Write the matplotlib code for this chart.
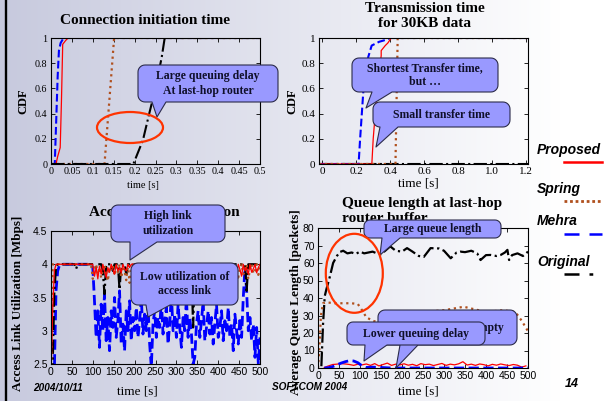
import numpy as np
import matplotlib
matplotlib.use("Agg")
import matplotlib.pyplot as plt
from matplotlib.patches import Polygon, Ellipse
from matplotlib.lines import Line2D

W, H = 611, 401
SERIF = "Liberation Serif"
SANS = "Liberation Sans"
RED = "#ff0000"
BROWN = "#b0501e"
BLUE = "#0000ff"
BLACK = "#000000"
FILL = "#9999ff"
EDGE = "#2b2b4a"
INK = "#10102a"

# ---------------- data ----------------
# connection initiation time (CDF)
conn_prop_x = [0, 0.012, 0.016, 0.022, 0.025, 0.028, 0.035, 0.041, 0.5]
conn_prop_y = [0, 0, 0.06, 0.13, 0.5, 0.95, 0.98, 1, 1]
conn_mehra_x = [0, 0.009, 0.012, 0.016, 0.019, 0.023, 0.03, 0.5]
conn_mehra_y = [0, 0, 0.3, 0.7, 0.9, 0.96, 1, 1]
conn_spring_x = [0, 0.128, 0.151, 0.5]
conn_spring_y = [0, 0, 1, 1]
conn_orig_x = [0, 0.197, 0.22, 0.235, 0.25, 0.265, 0.272, 0.5]
conn_orig_y = [0, 0, 0.19, 0.4, 0.6, 0.85, 1, 1]

# transmission time for 30KB (CDF)
tx_prop_x = [-0.02, 0.291, 0.299, 0.32, 0.346, 0.346, 0.37, 0.385, 0.405, 1.21]
tx_prop_y = [0, 0, 0.2, 0.55, 0.86, 0.9, 0.94, 0.96, 1, 1]
tx_mehra_x = [-0.02, 0.213, 0.222, 0.242, 0.27, 0.29, 0.334, 0.36, 0.4, 1.21]
tx_mehra_y = [0, 0, 0.2, 0.6, 0.85, 0.94, 0.97, 0.98, 1, 1]
tx_spring_x = [-0.02, 0.43, 0.443, 1.21]
tx_spring_y = [0, 0, 1, 1]
tx_orig_x = [-0.02, 1.21]
tx_orig_y = [0, 0]

# access link utilization, sampled every 4 s from 0 to 500
util_t = np.arange(0, 501, 4)
util_mehra = [
    2.3, 2.3, 2.4, 3.6, 3.9, 3.98, 4.0, 4.0, 4.0, 4.0,
    4.0, 4.0, 4.0, 4.0, 4.0, 4.0, 4.0, 4.0, 4.0, 4.0,
    4.0, 4.0, 4.0, 4.0, 3.98, 3.95, 3.45, 2.9, 3.3, 2.75,
    3.4, 3.0, 3.55, 2.85, 3.2, 2.7, 3.3, 3.05, 3.5, 2.9,
    3.15, 3.6, 2.8, 3.1, 2.7, 3.3, 3.0, 3.45, 2.85, 3.2,
    3.0, 3.35, 2.9, 3.15, 3.5, 2.95, 3.25, 3.0, 3.4, 2.8,
    2.45, 3.1, 3.3, 2.9, 3.2, 3.05, 3.45, 2.95, 3.15, 3.35,
    2.8, 3.1, 3.55, 3.0, 3.25, 2.9, 3.4, 3.05, 2.75, 3.2,
    3.0, 3.5, 2.9, 3.2, 2.95, 2.5, 2.6, 3.1, 3.3, 2.9,
    3.15, 3.45, 2.85, 3.05, 3.3, 2.95, 3.2, 2.8, 3.1, 3.4,
    2.9, 3.05, 3.3, 2.85, 3.15, 3.0, 3.35, 2.9, 3.1, 2.7,
    3.25, 3.0, 2.8, 3.2, 2.9, 3.5, 3.95, 3.6, 3.0, 3.2,
    2.85, 3.1, 2.6, 3.05, 2.5, 2.9]
util_orig = [
    2.3, 2.5, 3.6, 3.95, 4.0, 4.0, 4.0, 4.0, 4.0, 4.0,
    4.0, 4.0, 4.0, 4.0, 4.0, 3.93, 4.0, 4.0, 4.0, 4.0,
    4.0, 4.0, 4.0, 4.0, 4.0, 4.0, 4.0, 3.95, 4.0, 4.0,
    4.0, 3.9, 3.55, 4.0, 4.0, 4.0, 4.0, 3.9, 4.0, 4.0,
    4.0, 3.62, 4.0, 4.0, 4.0, 3.85, 4.0, 4.0, 4.0, 4.0,
    4.0, 4.0, 4.0, 4.0, 4.0, 4.0, 4.0, 4.0, 4.0, 4.0,
    4.0, 4.0, 4.0, 4.0, 4.0, 4.0, 4.0, 4.0, 4.0, 4.0,
    4.0, 4.0, 4.0, 4.0, 4.0, 4.0, 4.0, 4.0, 4.0, 4.0,
    4.0, 4.0, 4.0, 4.0, 4.0, 3.05, 4.0, 4.0, 4.0, 4.0,
    4.0, 4.0, 4.0, 4.0, 4.0, 4.0, 4.0, 4.0, 4.0, 4.0,
    4.0, 4.0, 4.0, 4.0, 4.0, 4.0, 4.0, 4.0, 4.0, 4.0,
    4.0, 4.0, 4.0, 4.0, 4.0, 4.0, 4.0, 3.6, 4.0, 4.0,
    4.0, 4.0, 4.0, 4.0, 4.0, 4.0]
util_spring = [
    2.3, 4.0, 4.0, 4.0, 4.0, 4.0, 4.0, 4.0, 4.0, 4.0,
    4.0, 4.0, 4.0, 4.0, 4.0, 4.0, 4.0, 4.0, 4.0, 4.0,
    4.0, 4.0, 4.0, 4.0, 4.0, 3.78, 3.9, 4.0, 3.85, 3.95,
    3.8, 3.92, 4.0, 3.86, 3.75, 3.95, 3.9, 4.0, 3.83, 3.96,
    3.88, 4.0, 3.8, 3.93, 3.9, 3.76, 4.0, 3.72, 3.9, 4.0,
    4.0, 4.0, 4.0, 4.0, 4.0, 4.0, 4.0, 4.0, 4.0, 4.0,
    4.0, 4.0, 4.0, 4.0, 4.0, 4.0, 4.0, 4.0, 4.0, 4.0,
    4.0, 4.0, 4.0, 4.0, 4.0, 4.0, 4.0, 4.0, 4.0, 4.0,
    4.0, 4.0, 4.0, 4.0, 4.0, 4.0, 4.0, 4.0, 4.0, 4.0,
    4.0, 4.0, 4.0, 4.0, 4.0, 4.0, 4.0, 4.0, 4.0, 4.0,
    4.0, 4.0, 4.0, 4.0, 4.0, 4.0, 4.0, 4.0, 4.0, 4.0,
    4.0, 3.88, 3.8, 3.95, 4.0, 3.85, 3.9, 4.0, 3.78, 3.92,
    4.0, 3.86, 3.9, 4.0, 3.84, 4.0]
util_prop = [
    2.3, 3.3, 3.9, 4.0, 4.0, 4.0, 4.0, 4.0, 4.0, 4.0,
    4.0, 4.0, 4.0, 4.0, 4.0, 4.0, 4.0, 4.0, 4.0, 4.0,
    4.0, 4.0, 4.0, 4.0, 4.0, 4.0, 3.82, 3.95, 3.78, 3.97,
    3.85, 4.0, 3.9, 3.8, 3.95, 3.88, 4.0, 3.92, 3.85, 4.0,
    3.9, 3.95, 3.87, 4.0, 3.93, 3.9, 4.0, 3.95, 4.0, 4.0,
    4.0, 4.0, 4.0, 4.0, 4.0, 4.0, 4.0, 4.0, 4.0, 4.0,
    4.0, 4.0, 4.0, 4.0, 4.0, 4.0, 4.0, 4.0, 4.0, 4.0,
    4.0, 4.0, 4.0, 4.0, 4.0, 4.0, 4.0, 4.0, 4.0, 4.0,
    4.0, 4.0, 4.0, 4.0, 4.0, 4.0, 4.0, 4.0, 4.0, 4.0,
    4.0, 4.0, 4.0, 4.0, 4.0, 4.0, 4.0, 4.0, 4.0, 4.0,
    4.0, 4.0, 4.0, 4.0, 4.0, 4.0, 4.0, 4.0, 4.0, 4.0,
    3.9, 3.85, 4.0, 3.92, 3.82, 4.0, 3.9, 3.95, 3.85, 4.0,
    3.88, 3.93, 4.0, 3.87, 3.95, 4.0]

# queue length at last-hop router buffer
q_orig_t = [8, 12, 16, 20, 28, 36, 45, 52, 60, 70, 80, 90, 100, 110, 120,
            130, 140, 150, 160, 172, 185, 200, 212, 225, 240, 252, 268, 288,
            300, 316, 330, 339, 350, 365, 379, 387, 400, 411, 425, 435, 445,
            451, 455, 462, 475, 488, 500]
q_orig = [1, 25, 41, 45, 52, 60, 64, 66.3, 67, 65.5, 66, 65.2, 66.5, 65.5, 66,
          66.5, 65.5, 65, 67, 69.5, 67, 66.5, 68.5, 66.5, 64, 63.5, 68.5, 68.3,
          67, 62.7, 66, 66.5, 66.2, 67, 65.5, 61.7, 64.5, 64.6, 64, 64.6, 66,
          67.5, 61.7, 64.5, 65.5, 64, 66.5]
q_spring_t = [0, 3, 7, 12, 20, 40, 60, 80, 95, 105, 115, 130, 145, 160, 200,
              250, 300, 347, 400, 440, 470, 485, 500]
q_spring = [0, 10, 30, 37, 37.5, 37, 37, 37, 36.5, 33, 29, 27, 26, 28, 30,
            32, 33, 35, 32, 33, 32, 27, 21]
q_prop_t = np.arange(15, 500, 10)
q_prop = [0.3, 1.2, 2.0, 2.2, 2.5, 2.3, 2.0, 1.5, 2.2, 1.8,
          2.3, 1.5, 2.5, 1.2, 2.0, 2.8, 1.5, 2.2, 1.8, 2.4,
          1.6, 2.1, 1.3, 2.5, 1.9, 2.2, 1.4, 2.0, 2.6, 1.5,
          2.2, 1.8, 2.4, 3.6, 1.7, 2.2, 1.5, 2.3, 1.9, 1.2,
          2.1, 1.6, 2.3, 1.8, 1.4, 2.0, 1.6, 0.5, 1.2]
q_mehra_t = [15, 25, 35, 45, 55, 65, 75, 85, 95, 105, 115, 130, 150, 175,
             200, 250, 300, 350, 400, 450, 500]
q_mehra = [0, 0.2, 0.8, 1.8, 2.8, 3.6, 4.2, 4.0, 3.0, 1.2, 0.3, 0.5, 0.3, 0,
           0, 0, 0, 0, 0, 0, 0]

legend_names = ["Proposed", "Spring", "Mehra", "Original"]

# ---------------- figure ----------------
fig = plt.figure(figsize=(W / 100, H / 100), dpi=100)

bg = fig.add_axes([0, 0, 1, 1], zorder=-5)
g = np.clip(np.arange(W) / 560.0, 0, 1)
left = np.array([0.78, 0.79, 0.87])
grad = left[None, :] * (1 - g[:, None]) + g[:, None]
bg.imshow(grad[None, :, :], extent=[0, W, H, 0], aspect="auto")
bg.set_xlim(0, W)
bg.set_ylim(H, 0)
bg.axis("off")


def px_axes(l, t, r, b):
    ax = fig.add_axes([l / W, 1 - b / H, (r - l) / W, (b - t) / H])
    ax.set_facecolor("none")
    ax.tick_params(direction="in", length=3, width=0.6, top=True, right=True, pad=2.5)
    for s in ax.spines.values():
        s.set_linewidth(0.8)
    return ax


def style_ticks(ax, family, size):
    for lab in ax.get_xticklabels() + ax.get_yticklabels():
        lab.set_family(family)
        lab.set_fontsize(size)


# connection initiation time
ax1 = px_axes(51, 38, 260, 164)
ax1.plot(conn_mehra_x, conn_mehra_y, color=BLUE, ls="--", lw=1.5)
ax1.plot(conn_prop_x, conn_prop_y, color=RED, lw=0.9)
ax1.plot(conn_spring_x, conn_spring_y, color=BROWN, ls=":", lw=1.6)
ax1.plot(conn_orig_x, conn_orig_y, color=BLACK, ls="-.", lw=1.5)
ax1.set_xlim(0, 0.5)
ax1.set_ylim(0, 1)
ax1.set_xticks(np.arange(0, 0.51, 0.05))
ax1.set_xticklabels(["0", "0.05", "0.1", "0.15", "0.2", "0.25", "0.3", "0.35", "0.4", "0.45", "0.5"])
ax1.set_yticks(np.arange(0, 1.01, 0.2))
ax1.set_yticklabels(["0", "0.2", "0.4", "0.6", "0.8", "1"])
style_ticks(ax1, SERIF, 7.3)

# transmission time
ax2 = px_axes(319, 38, 528, 164)
ax2.plot(tx_orig_x, tx_orig_y, color=BLACK, ls="-.", lw=1.5)
ax2.plot(tx_mehra_x, tx_mehra_y, color=BLUE, ls="--", lw=1.5)
ax2.plot(tx_prop_x, tx_prop_y, color=RED, lw=0.9)
ax2.plot(tx_spring_x, tx_spring_y, color=BROWN, ls=":", lw=1.6)
ax2.set_xlim(-0.02, 1.21)
ax2.set_ylim(0, 1)
ax2.set_xticks(np.arange(0, 1.21, 0.2))
ax2.set_xticklabels(["0", "0.2", "0.4", "0.6", "0.8", "1.0", "1.2"])
ax2.set_yticks(np.arange(0, 1.01, 0.2))
ax2.set_yticklabels(["0", "0.2", "0.4", "0.6", "0.8", "1"])
style_ticks(ax2, SERIF, 8)

# access link utilization
ax3 = px_axes(51, 231, 260, 364)
ax3.plot(util_t, util_mehra, color=BLUE, ls="--", lw=2.0)
ax3.plot(util_t, util_orig, color=BLACK, ls="-.", lw=1.6)
ax3.plot(util_t, util_spring, color=BROWN, ls=":", lw=1.6)
ax3.plot(util_t, util_prop, color=RED, lw=0.9)
ax3.set_xlim(0, 500)
ax3.set_ylim(2.5, 4.5)
ax3.set_xticks(np.arange(0, 501, 50))
ax3.set_yticks([2.5, 3, 3.5, 4, 4.5])
ax3.set_yticklabels(["2.5", "3", "3.5", "4", "4.5"])
style_ticks(ax3, SANS, 7.5)

# queue length
ax4 = px_axes(318, 228, 528, 368)
ax4.plot(q_orig_t, q_orig, color=BLACK, ls="-.", lw=1.6)
ax4.plot(q_spring_t, q_spring, color=BROWN, ls=":", lw=1.6)
ax4.plot(q_prop_t, q_prop, color=RED, lw=0.9)
ax4.plot(q_mehra_t, q_mehra, color=BLUE, ls="--", lw=2.0)
ax4.set_xlim(0, 500)
ax4.set_ylim(0, 80)
ax4.set_xticks(np.arange(0, 501, 50))
ax4.set_yticks(np.arange(0, 81, 10))
style_ticks(ax4, SANS, 7.5)

# ---------------- slide overlay ----------------
ov = fig.add_axes([0, 0, 1, 1], zorder=10)
ov.set_xlim(0, W)
ov.set_ylim(H, 0)
ov.axis("off")
ov.set_facecolor("none")

ov.add_line(Line2D([5.5, 5.5], [0, H], color="black", lw=1.7))

tkw = dict(family=SERIF, weight="bold", ha="center", va="center", zorder=1)
ov.text(144.5, 20, "Connection initiation time", fontsize=11, **tkw)
ov.text(425, 16, "Transmission time\nfor 30KB data", fontsize=11, linespacing=1.15, **tkw)
ov.text(164, 213, "Access Link Utilization", fontsize=11, **tkw)
ov.text(342, 211, "Queue length at last-hop\nrouter buffer", fontsize=11, family=SERIF,
        weight="bold", ha="left", va="center", linespacing=1.15, zorder=1)

ov.text(23, 101, "CDF", fontsize=9, rotation=90, **tkw)
ov.text(292, 101, "CDF", fontsize=9, rotation=90, **tkw)
ov.text(18, 303, "Access Link Utilization [Mbps]", fontsize=9.5, rotation=90, **tkw)
ov.text(296, 302, "Average Queue Length [packets]", fontsize=9.5, rotation=90, **tkw)

xkw = dict(family=SERIF, ha="center", va="center", zorder=1)
ov.text(143, 186, "time [s]", fontsize=7.5, **xkw)
ov.text(418, 184, "time [s]", fontsize=9.5, **xkw)
ov.text(137, 392, "time [s]", fontsize=9.5, **xkw)
ov.text(418, 392, "time [s]", fontsize=9.5, **xkw)

# legend at the right
leg_text_y = [150, 189, 221, 262]
leg_line_y = [162, 201, 234, 274]
leg_styles = [dict(color=RED, lw=1.8, ls="-"),
              dict(color=BROWN, lw=2.0, ls=(0, (1, 1))),
              dict(color=BLUE, lw=1.8, ls=(0, (6, 4))),
              dict(color=BLACK, lw=1.8, ls=(0, (6, 4, 1.5, 4)))]
for name, ty, ly, st in zip(legend_names, leg_text_y, leg_line_y, leg_styles):
    ov.text(537, ty, name, family=SANS, weight="bold", style="italic",
            fontsize=10, ha="left", va="center", zorder=1)
    ov.add_line(Line2D([564, 602], [ly, ly], zorder=1, **st))

fkw = dict(family=SANS, weight="bold", style="italic", ha="left", va="center", zorder=8)
ov.text(33, 388, "2004/10/11", fontsize=7.2, **fkw)
ov.text(272, 387, "SOFTCOM 2004", fontsize=7.2, **fkw)
ov.text(565, 384, "14", fontsize=9, **fkw)


def bubble(box, base, tip, text, r=7, fs=8.5, z=5):
    x0, y0, x1, y1 = box
    b1, b2 = base
    pts = []

    def arc(cx, cy, a0, a1):
        for a in np.linspace(a0, a1, 8):
            pts.append((cx + r * np.cos(a), cy + r * np.sin(a)))

    arc(x0 + r, y0 + r, np.pi, 1.5 * np.pi)
    arc(x1 - r, y0 + r, 1.5 * np.pi, 2 * np.pi)
    arc(x1 - r, y1 - r, 0, 0.5 * np.pi)
    pts += [(b2, y1), tip, (b1, y1)]
    arc(x0 + r, y1 - r, 0.5 * np.pi, np.pi)
    ov.add_patch(Polygon(pts, closed=True, fc=FILL, ec=EDGE, lw=0.8, zorder=z,
                         joinstyle="round"))
    ov.text((x0 + x1) / 2, (y0 + y1) / 2, text, family=SERIF, weight="bold",
            fontsize=fs, color=INK, ha="center", va="center", linespacing=1.25,
            zorder=z + 0.1)


bubble((138, 65, 278, 102), (152, 166), (157, 117), "Large queuing delay\nAt last-hop router")
bubble((352, 58, 498, 92), (372, 392), (366, 108), "Shortest Transfer time,\nbut \u2026", z=5.2)
bubble((373, 102, 510, 127), (380, 398), (376, 147), "Small transfer time", z=5.4)
bubble((111, 205, 225, 242), (130, 157), (130, 260), "High link\nutilization", z=5.2)
bubble((131, 263, 238, 305), (146, 170), (148, 317), "Low utilization of\naccess link", z=5.4)
bubble((364, 220, 501, 238), (382, 400), (380, 255), "Large queue length", r=6)
bubble((378, 310, 517, 345), (400, 418), (396, 368), "Buffer becomes empty", z=5.2)
bubble((347, 322, 485, 345), (365, 387), (364, 361), "Lower queuing delay", r=6, z=5.4)

ov.add_patch(Ellipse((130, 127.5), 66, 31, fill=False, ec="#ff3300", lw=1.6, zorder=6))
ov.add_patch(Ellipse((354.3, 273.3), 57, 79, fill=False, ec="#ff3300", lw=1.6, zorder=6))

fig.savefig("out.png", dpi=100)
